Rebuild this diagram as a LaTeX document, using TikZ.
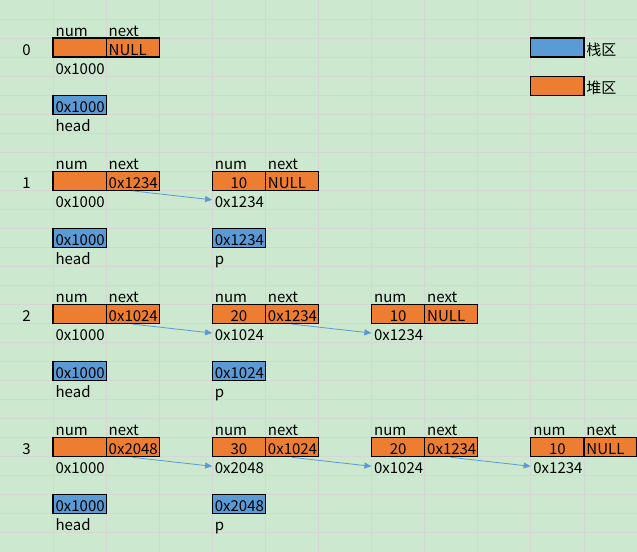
\documentclass[tikz,border=0pt]{standalone}
\usepackage{fontspec}
\setmainfont{Noto Sans CJK SC}
\usepackage{tikz}
\usetikzlibrary{arrows.meta, positioning}
\definecolor{heaporange}{RGB}{237, 125, 49}
\definecolor{stackblue}{RGB}{91, 155, 213}
\definecolor{sheetgreen}{RGB}{204, 232, 207}
\definecolor{gridgray}{RGB}{214, 214, 214}

\begin{document}
\begin{tikzpicture}[
    x=53.08pt, y=-19.03pt,
    cell/.style={rectangle, inner sep=0pt, minimum width=53.08pt, minimum height=19.03pt, text height=15pt, text depth=0pt, font=\fontsize{15pt}{17pt}\selectfont},
    txt/.style={cell, text width=48pt, align=left},
    heap/.style={txt, draw, line width=1.2pt, fill=heaporange},
    heapnum/.style={cell, draw, line width=1.2pt, fill=heaporange},
    stack/.style={txt, draw, line width=1.2pt, fill=stackblue},
    gridline/.style={draw=gridgray, line width=0.8pt},
    arrow/.style={-{Triangle[length=7pt, width=6pt]}, stackblue, line width=0.8pt}
]
    \useasboundingbox (0,0) rectangle (12,29);
    % Sheet
    \fill[sheetgreen] (0,0) rectangle (12,29);
    \foreach \c in {1,...,12} \draw[gridline] (\c,0) -- (\c,29);
    \foreach \r in {1,...,29} \draw[gridline] (0,\r) -- (12,\r);

    % Legend
    \node[stack] (stackkey) at (10.5, 2.5) {};
    \node[txt] (stackname) at (11.5, 2.5) {栈区};
    \node[heap] (heapkey) at (10.5, 4.5) {};
    \node[txt] (heapname) at (11.5, 4.5) {堆区};

    % Step 0
    \node[cell] (step0) at (0.5, 2.5) {0};
    \node[txt] (a0numlbl) at (1.5, 1.5) {num};
    \node[txt] (a0nextlbl) at (2.5, 1.5) {next};
    \node[heapnum] (a0num) at (1.5, 2.5) {};
    \node[heap] (a0next) at (2.5, 2.5) {NULL};
    \node[txt] (a0addr) at (1.5, 3.5) {0x1000};
    \node[stack] (head0) at (1.5, 5.5) {0x1000};
    \node[txt] (head0name) at (1.5, 6.5) {head};

    % Step 1
    \node[cell] (step1) at (0.5, 9.5) {1};
    \node[txt] (a1numlbl) at (1.5, 8.5) {num};
    \node[txt] (a1nextlbl) at (2.5, 8.5) {next};
    \node[heapnum] (a1num) at (1.5, 9.5) {};
    \node[heap] (a1next) at (2.5, 9.5) {0x1234};
    \node[txt] (a1addr) at (1.5, 10.5) {0x1000};
    \node[txt] (b1numlbl) at (4.5, 8.5) {num};
    \node[txt] (b1nextlbl) at (5.5, 8.5) {next};
    \node[heapnum] (b1num) at (4.5, 9.5) {10};
    \node[heap] (b1next) at (5.5, 9.5) {NULL};
    \node[txt] (b1addr) at (4.5, 10.5) {0x1234};
    \node[stack] (head1) at (1.5, 12.5) {0x1000};
    \node[txt] (head1name) at (1.5, 13.5) {head};
    \node[stack] (p1) at (4.5, 12.5) {0x1234};
    \node[txt] (p1name) at (4.5, 13.5) {p};

    % Step 2
    \node[cell] (step2) at (0.5, 16.5) {2};
    \node[txt] (a2numlbl) at (1.5, 15.5) {num};
    \node[txt] (a2nextlbl) at (2.5, 15.5) {next};
    \node[heapnum] (a2num) at (1.5, 16.5) {};
    \node[heap] (a2next) at (2.5, 16.5) {0x1024};
    \node[txt] (a2addr) at (1.5, 17.5) {0x1000};
    \node[txt] (b2numlbl) at (4.5, 15.5) {num};
    \node[txt] (b2nextlbl) at (5.5, 15.5) {next};
    \node[heapnum] (b2num) at (4.5, 16.5) {20};
    \node[heap] (b2next) at (5.5, 16.5) {0x1234};
    \node[txt] (b2addr) at (4.5, 17.5) {0x1024};
    \node[txt] (c2numlbl) at (7.5, 15.5) {num};
    \node[txt] (c2nextlbl) at (8.5, 15.5) {next};
    \node[heapnum] (c2num) at (7.5, 16.5) {10};
    \node[heap] (c2next) at (8.5, 16.5) {NULL};
    \node[txt] (c2addr) at (7.5, 17.5) {0x1234};
    \node[stack] (head2) at (1.5, 19.5) {0x1000};
    \node[txt] (head2name) at (1.5, 20.5) {head};
    \node[stack] (p2) at (4.5, 19.5) {0x1024};
    \node[txt] (p2name) at (4.5, 20.5) {p};

    % Step 3
    \node[cell] (step3) at (0.5, 23.5) {3};
    \node[txt] (a3numlbl) at (1.5, 22.5) {num};
    \node[txt] (a3nextlbl) at (2.5, 22.5) {next};
    \node[heapnum] (a3num) at (1.5, 23.5) {};
    \node[heap] (a3next) at (2.5, 23.5) {0x2048};
    \node[txt] (a3addr) at (1.5, 24.5) {0x1000};
    \node[txt] (b3numlbl) at (4.5, 22.5) {num};
    \node[txt] (b3nextlbl) at (5.5, 22.5) {next};
    \node[heapnum] (b3num) at (4.5, 23.5) {30};
    \node[heap] (b3next) at (5.5, 23.5) {0x1024};
    \node[txt] (b3addr) at (4.5, 24.5) {0x2048};
    \node[txt] (c3numlbl) at (7.5, 22.5) {num};
    \node[txt] (c3nextlbl) at (8.5, 22.5) {next};
    \node[heapnum] (c3num) at (7.5, 23.5) {20};
    \node[heap] (c3next) at (8.5, 23.5) {0x1234};
    \node[txt] (c3addr) at (7.5, 24.5) {0x1024};
    \node[txt] (d3numlbl) at (10.5, 22.5) {num};
    \node[txt] (d3nextlbl) at (11.5, 22.5) {next};
    \node[heapnum] (d3num) at (10.5, 23.5) {10};
    \node[heap] (d3next) at (11.5, 23.5) {NULL};
    \node[txt] (d3addr) at (10.5, 24.5) {0x1234};
    \node[stack] (head3) at (1.5, 26.5) {0x1000};
    \node[txt] (head3name) at (1.5, 27.5) {head};
    \node[stack] (p3) at (4.5, 26.5) {0x2048};
    \node[txt] (p3name) at (4.5, 27.5) {p};

    % Arrows
    \draw[arrow] (a1next.south) -- (b1addr.west);
    \draw[arrow] (a2next.south) -- (b2addr.west);
    \draw[arrow] (b2next.south) -- (c2addr.west);
    \draw[arrow] (a3next.south) -- (b3addr.west);
    \draw[arrow] (b3next.south) -- (c3addr.west);
    \draw[arrow] (c3next.south) -- (d3addr.west);
\end{tikzpicture}
\end{document}
